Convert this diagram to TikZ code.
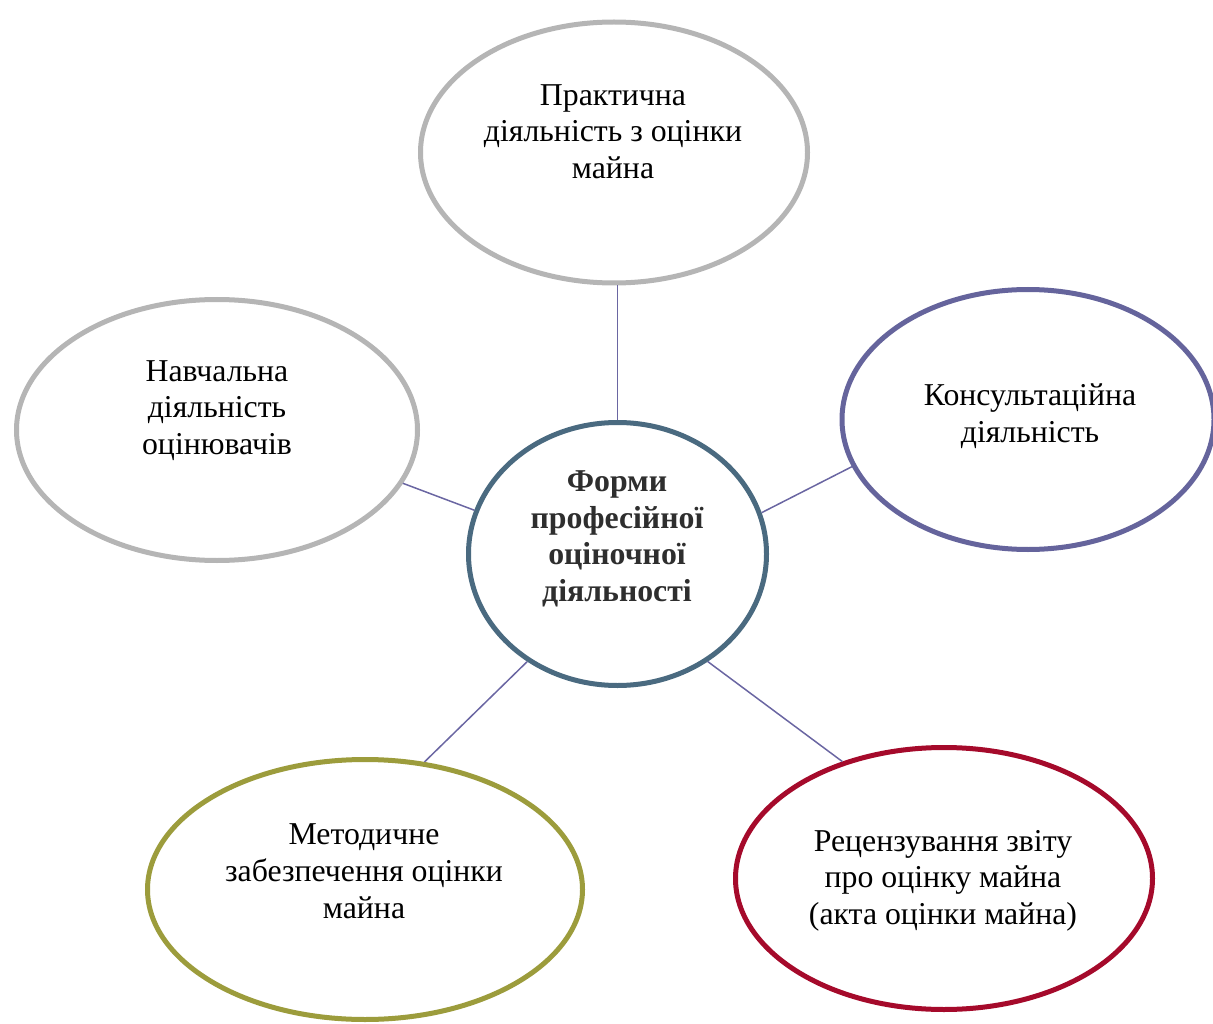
\documentclass[tikz,border=0pt]{standalone}
\usepackage{fontspec}
\setmainfont{Liberation Serif}
\usetikzlibrary{shapes.geometric}
\definecolor{grayring}{HTML}{B5B5B5}
\definecolor{bluering}{HTML}{65649C}
\definecolor{tealring}{HTML}{4A6A80}
\definecolor{olivering}{HTML}{9C9C3C}
\definecolor{redring}{HTML}{A50A2B}
\definecolor{linkcol}{HTML}{6A66A2}
\definecolor{darktext}{HTML}{2E2E2E}
\tikzset{
  ring/.style={ellipse, draw=#1, line width=5pt, fill=white, inner sep=0pt},
  label text/.style={align=center, anchor=base, font=\fontsize{31.8}{36.6}\selectfont, inner sep=0pt},
  link/.style={draw=linkcol, line width=1.5pt}
}
\begin{document}
\begin{tikzpicture}[x=1pt,y=-1pt]
\useasboundingbox (0,0) rectangle (1213,1024);
\node[ring=grayring, minimum width=387pt, minimum height=261pt] (top) at (614,152.5) {};
\node[ring=grayring, minimum width=401pt, minimum height=261pt] (left) at (217,430) {};
\node[ring=bluering, minimum width=372pt, minimum height=260pt] (right) at (1028,419.5) {};
\node[ring=tealring, minimum width=298pt, minimum height=263pt] (c) at (617.5,554) {};
\node[ring=olivering, minimum width=435pt, minimum height=260pt] (bl) at (365,889.5) {};
\node[ring=redring, minimum width=417pt, minimum height=262pt] (br) at (944,878.5) {};

\draw[link] (top.south -| c.north) -- (c.north);
\draw[link] (left.-16.7) -- (c.163.5);
\draw[link] (right.195.5) -- (c.16.4);
\draw[link] (bl.65) -- (c.230.6);
\draw[link] (br.131) -- (c.-50.2);

\node[label text] (ttop) at (613,178.5) {Практична\\діяльність з оцінки\\майна};
\node[label text] (tleft) at (217,454.5) {Навчальна\\діяльність\\оцінювачів};
\node[label text] (tright) at (1030,442) {Консультаційна\\діяльність};
\node[label text, text=darktext, font=\fontsize{31.8}{36.6}\selectfont\bfseries] (tc) at (617,601.5) {Форми\\професійної\\оціночної\\діяльності};
\node[label text] (tbl) at (364,918) {Методичне\\забезпечення оцінки\\майна};
\node[label text] (tbr) at (943,924.5) {Рецензування звіту\\про оцінку майна\\(акта оцінки майна)};
\end{tikzpicture}
\end{document}
